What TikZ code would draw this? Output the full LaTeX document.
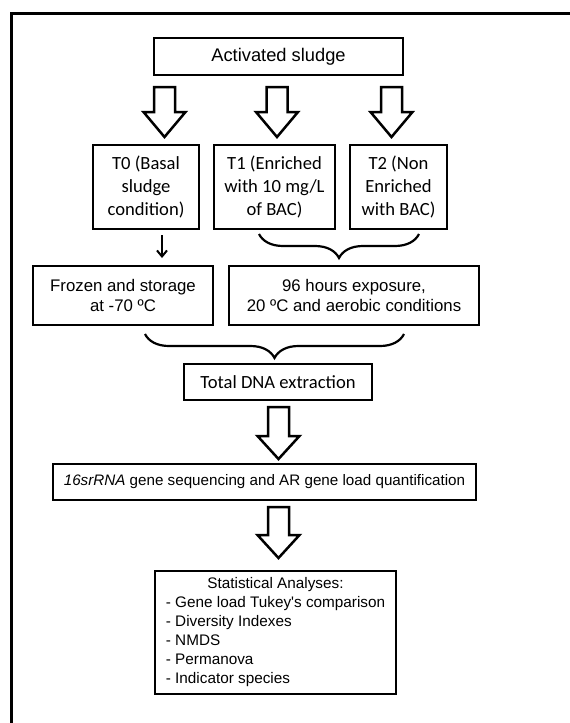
\documentclass[tikz,border=0pt]{standalone}
\usepackage{fontspec}
\setmainfont{Liberation Sans}
\newfontfamily\calib{Carlito}
\usetikzlibrary{decorations.pathreplacing,arrows.meta}
\tikzset{
  box/.style={draw=black,line width=2.5pt,fill=white,inner sep=0pt,align=center},
  blk/.style={draw=black,line width=2.5pt,line join=miter,fill=white},
  brc/.style={draw=black,line width=2.2pt,decorate,decoration={brace,mirror,amplitude=#1}},
  arialL/.style={font=\fontsize{18.3}{22}\selectfont},
  arialM/.style={font=\fontsize{16.8}{20}\selectfont},
  calT/.style={font=\calib\fontsize{18.6}{23}\selectfont},
}
\newcommand\BlkArrow[4]{% x, ytop, yhead, ytip
  \draw[blk] ({#1-10.5},#2) -- ({#1+10.5},#2) -- ({#1+10.5},#3) -- ({#1+21},#3)
    -- (#1,#4) -- ({#1-21},#3) -- ({#1-10.5},#3) -- cycle;}
\begin{document}
\begin{tikzpicture}[x=1pt,y=-1pt]
\useasboundingbox (0,0) rectangle (570,723);
\fill[white] (0,0) rectangle (570,723);
\draw[line width=3pt] (11,724) -- (11,13) -- (571,13);

\node[box,arialL,minimum width=249,minimum height=37] (act) at (278.5,56.5) {Activated sludge};

\node[box,calT,minimum width=106,minimum height=84] (t0) at (146,187) {T0 (Basal\\sludge\\condition)};
\node[box,calT,minimum width=121,minimum height=84] (t1) at (274.5,187) {T1 (Enriched\\with 10 mg/L\\of BAC)};
\node[box,calT,minimum width=97,minimum height=84] (t2) at (398.5,187) {T2 (Non\\Enriched\\with BAC)};

\BlkArrow{164.5}{87}{112}{137}
\BlkArrow{277}{87}{112}{137}
\BlkArrow{391.5}{87}{112}{137}

\node[box,arialM,minimum width=180,minimum height=59] (frz) at (123,295.5) {Frozen and storage\\at -70 ºC};
\node[box,arialM,minimum width=250,minimum height=59] (hrs) at (354,295.5) {96 hours exposure,\\ 20 ºC and aerobic conditions};

\draw[line width=2pt,-{Straight Barb[length=6pt,width=10pt]}] (t0.south -| 162,0) ++(0,5) -- (162,258);

\coordinate (b1l) at (259,234);
\coordinate (b1r) at (419,234);
\draw[brc=24pt] (b1l) -- (b1r);

\coordinate (b2l) at (145,334);
\coordinate (b2r) at (404,334);
\draw[brc=24pt] (b2l) -- (b2r);

\node[box,calT,minimum width=188,minimum height=36] (dna) at (278,382) {Total DNA extraction};
\BlkArrow{278.5}{407}{436}{459}

\node[box,font=\fontsize{15.2}{20}\selectfont,minimum width=423,minimum height=36] (seq) at (264.5,482) {\textit{16srRNA} gene sequencing and AR gene load quantification};
\BlkArrow{278.5}{507}{535}{558}

\node[box,font=\fontsize{15.3}{19}\selectfont,minimum width=241,minimum height=123] (stat) at (275.5,632.5)
 {\begin{tabular}{@{}l@{}}\multicolumn{1}{@{}c@{}}{Statistical Analyses:}\\
 - Gene load Tukey\textquotesingle s comparison\\
 - Diversity Indexes\\
 - NMDS\\
 - Permanova\\
 - Indicator species\end{tabular}};
\end{tikzpicture}
\end{document}
